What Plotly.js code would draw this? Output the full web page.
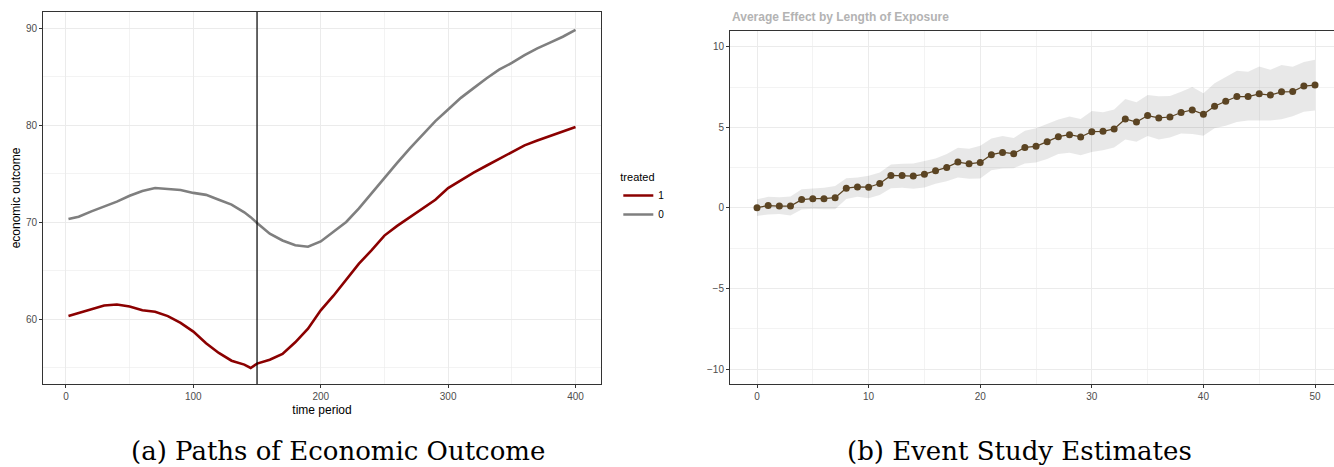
<!DOCTYPE html>
<html>
<head>
<meta charset="utf-8">
<script src="https://cdn.plot.ly/plotly-3.0.1.min.js"></script>
<style>
  html, body { margin: 0; padding: 0; background: #fff; }
  #chart { width: 1334px; height: 467px; }
</style>
</head>
<body>
<div id="chart"></div>
<script>
// ---------- Panel (a): paths of economic outcome ----------
const periods = [2, 10, 20, 30, 40, 50, 60, 70, 80, 90, 100, 110, 120, 130, 140, 145, 150, 160, 170, 180, 190, 200, 210, 220, 230, 240, 250, 260, 270, 280, 290, 300, 310, 320, 330, 340, 350, 360, 370, 380, 390, 400];
const treatedOutcome = [60.3, 60.6, 61.0, 61.4, 61.5, 61.3, 60.9, 60.75, 60.3, 59.6, 58.7, 57.5, 56.5, 55.7, 55.3, 54.95, 55.4, 55.8, 56.4, 57.6, 59.0, 60.9, 62.4, 64.0, 65.7, 67.1, 68.6, 69.6, 70.5, 71.4, 72.3, 73.5, 74.3, 75.1, 75.8, 76.5, 77.2, 77.9, 78.4, 78.85, 79.35, 79.8];
const controlOutcome = [70.3, 70.55, 71.1, 71.6, 72.1, 72.7, 73.2, 73.5, 73.4, 73.3, 73.0, 72.8, 72.3, 71.8, 71.0, 70.5, 69.9, 68.8, 68.1, 67.6, 67.45, 68.0, 69.0, 70.0, 71.4, 73.0, 74.6, 76.1, 77.6, 79.0, 80.4, 81.6, 82.8, 83.8, 84.8, 85.7, 86.4, 87.2, 87.9, 88.5, 89.1, 89.8];
const groupLabels = ["1", "0"];
const treatmentStart = 150;

// ---------- Panel (b): event study estimates ----------
const exposure = [0,1,2,3,4,5,6,7,8,9,10,11,12,13,14,15,16,17,18,19,20,21,22,23,24,25,26,27,28,29,30,31,32,33,34,35,36,37,38,39,40,41,42,43,44,45,46,47,48,49,50];
const effect = [0.02,0.15,0.12,0.12,0.52,0.58,0.58,0.64,1.23,1.31,1.29,1.52,2.02,2.02,1.98,2.10,2.31,2.52,2.85,2.74,2.83,3.31,3.45,3.37,3.76,3.83,4.12,4.43,4.55,4.41,4.74,4.76,4.91,5.53,5.34,5.74,5.59,5.65,5.93,6.09,5.82,6.32,6.63,6.92,6.92,7.09,7.01,7.21,7.23,7.57,7.63];
const upperCI = [0.54,0.69,0.67,0.71,1.16,1.19,1.25,1.37,1.85,1.89,2.00,2.20,2.70,2.74,2.77,2.91,3.08,3.35,3.74,3.68,3.87,4.32,4.47,4.35,4.80,4.95,5.24,5.49,5.68,5.53,6.03,5.95,6.11,6.76,6.57,7.01,6.94,6.96,7.21,7.51,7.13,7.75,8.13,8.52,8.46,8.79,8.59,8.88,8.77,9.06,9.21];
const lowerCI = [-0.50,-0.40,-0.37,-0.46,-0.10,-0.04,-0.08,-0.08,0.56,0.69,0.60,0.81,1.23,1.25,1.19,1.27,1.50,1.66,1.89,1.81,1.83,2.35,2.45,2.47,2.77,2.83,3.04,3.35,3.43,3.28,3.47,3.58,3.76,4.26,4.12,4.47,4.26,4.37,4.62,4.59,4.49,4.95,5.11,5.34,5.43,5.43,5.43,5.51,5.70,5.97,6.05];

const FONT = "Liberation Sans, Arial, sans-serif";
const TICKCOL = "#4d4d4d";
const GRID = "#ebebeb";

const traces = [
  { x: periods, y: treatedOutcome, type: "scatter", mode: "lines", name: groupLabels[0],
    line: { color: "#8b0000", width: 2.6 }, xaxis: "x", yaxis: "y", showlegend: true },
  { x: periods, y: controlOutcome, type: "scatter", mode: "lines", name: groupLabels[1],
    line: { color: "#7f7f7f", width: 2.6 }, xaxis: "x", yaxis: "y", showlegend: true },
  { x: exposure, y: lowerCI, type: "scatter", mode: "lines", line: { width: 0, color: "rgba(0,0,0,0)" },
    xaxis: "x2", yaxis: "y2", showlegend: false, hoverinfo: "skip" },
  { x: exposure, y: upperCI, type: "scatter", mode: "lines", line: { width: 0, color: "rgba(0,0,0,0)" },
    fill: "tonexty", fillcolor: "rgba(0,0,0,0.09)", xaxis: "x2", yaxis: "y2", showlegend: false, hoverinfo: "skip" },
  { x: exposure, y: effect, type: "scatter", mode: "lines+markers",
    line: { color: "#5b4423", width: 1.2 }, marker: { color: "#5b4423", size: 7 },
    xaxis: "x2", yaxis: "y2", showlegend: false }
];

const axisCommon = {
  showgrid: true, gridcolor: GRID, gridwidth: 1,
  zeroline: false, ticks: "outside", ticklen: 3, tickcolor: "#333333", tickwidth: 1,
  tickfont: { family: FONT, size: 10, color: TICKCOL },
  showline: true, linecolor: "#333333", linewidth: 1, automargin: false
};

const layout = {
  width: 1334, height: 467,
  margin: { l: 0, r: 0, t: 0, b: 0 },
  paper_bgcolor: "#ffffff", plot_bgcolor: "#ffffff",
  font: { family: FONT },
  showlegend: true,
  legend: {
    x: 0.4635, y: 0.643, xanchor: "left", yanchor: "top", traceorder: "normal",
    title: { text: "treated", font: { family: FONT, size: 11, color: "#000" } },
    font: { family: FONT, size: 10, color: "#000" },
    bgcolor: "rgba(0,0,0,0)", itemwidth: 30, tracegroupgap: 0
  },
  xaxis: Object.assign({}, axisCommon, {
    domain: [43/1334, 601/1334], range: [-18, 420], anchor: "y",
    tickvals: [0, 100, 200, 300, 400], mirror: true,
    minor: { tickvals: [50, 150, 250, 350], showgrid: true, gridcolor: GRID, gridwidth: 0.6, ticks: "" },
    title: { text: "time period", font: { family: FONT, size: 12, color: "#000" }, standoff: 4 }
  }),
  yaxis: Object.assign({}, axisCommon, {
    domain: [1 - 384/467, 1 - 12/467], range: [53.3, 91.65], anchor: "x",
    tickvals: [60, 70, 80, 90], mirror: true,
    minor: { tickvals: [55, 65, 75, 85], showgrid: true, gridcolor: GRID, gridwidth: 0.6, ticks: "" },
    title: { text: "economic outcome", font: { family: FONT, size: 12, color: "#000" }, standoff: 2 }
  }),
  xaxis2: Object.assign({}, axisCommon, {
    domain: [730/1334, 1], range: [-2.42, 51.7], anchor: "y2",
    tickvals: [0, 10, 20, 30, 40, 50], mirror: true,
    minor: { tickvals: [5, 15, 25, 35, 45], showgrid: true, gridcolor: GRID, gridwidth: 0.6, ticks: "" }
  }),
  yaxis2: Object.assign({}, axisCommon, {
    domain: [1 - 384/467, 1 - 31/467], range: [-10.93, 10.99], anchor: "x2",
    tickvals: [-10, -5, 0, 5, 10], mirror: false,
    minor: { tickvals: [-7.5, -2.5, 2.5, 7.5], showgrid: true, gridcolor: GRID, gridwidth: 0.6, ticks: "" }
  }),
  shapes: [
    { type: "line", xref: "x", yref: "y domain", x0: treatmentStart, x1: treatmentStart, y0: 0, y1: 1,
      line: { color: "#000000", width: 1.2 } }
  ],
  annotations: [
    { text: "<b>Average Effect by Length of Exposure</b>", xref: "paper", yref: "paper",
      x: 730/1334, y: 1 - 17/467, xanchor: "left", yanchor: "middle", showarrow: false,
      font: { family: FONT, size: 12, color: "#b3b3b3" } },
    { text: "(a) Paths of Economic Outcome", xref: "paper", yref: "paper",
      x: 338/1334, y: 1 - 451/467, xanchor: "center", yanchor: "middle", showarrow: false,
      font: { family: "DejaVu Serif, serif", size: 26, color: "#000" } },
    { text: "(b) Event Study Estimates", xref: "paper", yref: "paper",
      x: 1019/1334, y: 1 - 451/467, xanchor: "center", yanchor: "middle", showarrow: false,
      font: { family: "DejaVu Serif, serif", size: 26, color: "#000" } }
  ]
};

Plotly.newPlot("chart", traces, layout, { displayModeBar: false, staticPlot: true });
</script>
</body>
</html>
